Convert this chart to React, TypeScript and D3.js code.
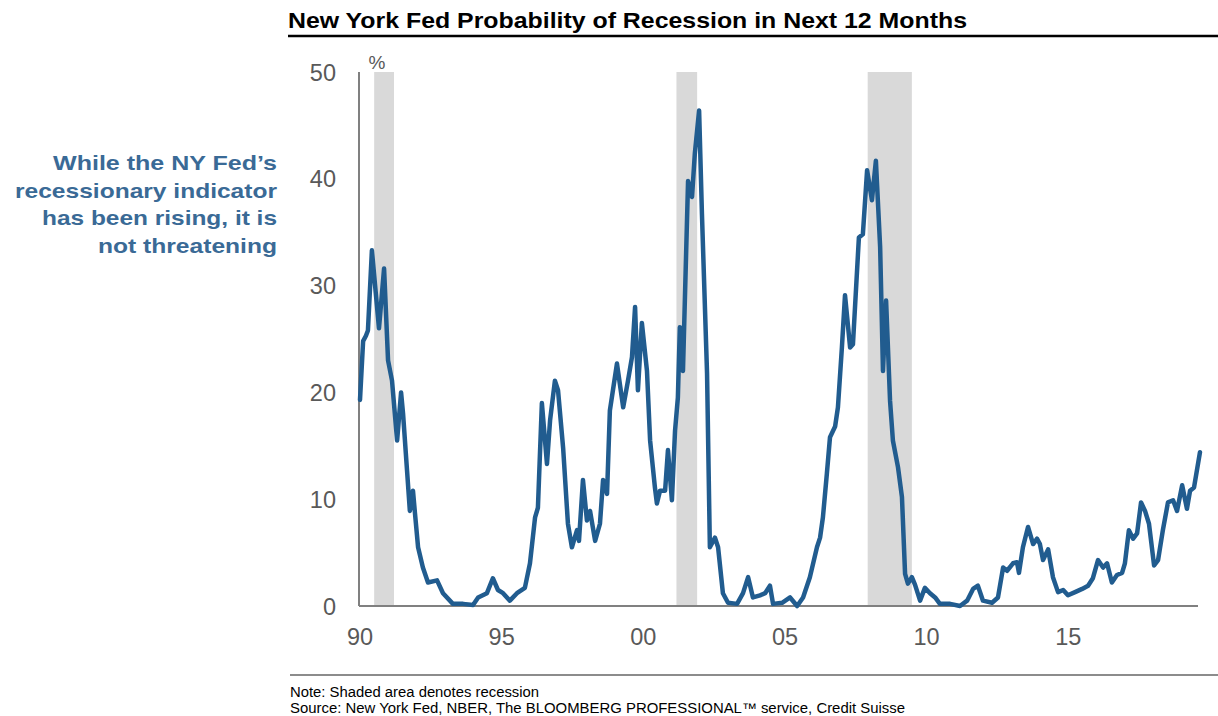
import React from 'react';
import * as d3 from 'd3';

// NY Fed recession probability (decimal year, %)
const dates: number[] = [
    1990.0, 1990.11, 1990.21, 1990.28, 1990.42, 1990.67, 1990.85, 1990.99, 1991.13, 1991.31,
    1991.45, 1991.52, 1991.66, 1991.76, 1991.87, 1991.94, 1992.05, 1992.22, 1992.4, 1992.72,
    1992.93, 1993.28, 1993.64, 1993.99, 1994.17, 1994.48, 1994.69, 1994.87, 1995.05, 1995.29,
    1995.54, 1995.82, 1996.0, 1996.18, 1996.28, 1996.42, 1996.6, 1996.71, 1996.88, 1996.99,
    1997.17, 1997.34, 1997.48, 1997.66, 1997.73, 1997.87, 1998.01, 1998.12, 1998.3, 1998.47,
    1998.58, 1998.72, 1998.82, 1999.07, 1999.29, 1999.46, 1999.6, 1999.71, 1999.81, 1999.95,
    2000.13, 2000.24, 2000.41, 2000.48, 2000.59, 2000.77, 2000.87, 2001.01, 2001.12, 2001.22,
    2001.29, 2001.4, 2001.58, 2001.72, 2001.82, 2001.97, 2002.07, 2002.25, 2002.35, 2002.53,
    2002.64, 2002.81, 2002.99, 2003.31, 2003.52, 2003.7, 2003.87, 2004.12, 2004.3, 2004.47,
    2004.58, 2004.9, 2005.18, 2005.43, 2005.64, 2005.88, 2006.13, 2006.24, 2006.34, 2006.48,
    2006.59, 2006.77, 2006.87, 2007.01, 2007.12, 2007.3, 2007.4, 2007.61, 2007.75, 2007.9,
    2008.07, 2008.21, 2008.36, 2008.46, 2008.57, 2008.71, 2008.81, 2008.99, 2009.13, 2009.24,
    2009.34, 2009.48, 2009.59, 2009.77, 2009.94, 2010.12, 2010.3, 2010.47, 2010.83, 2011.18,
    2011.43, 2011.64, 2011.81, 2011.99, 2012.31, 2012.52, 2012.7, 2012.84, 2013.05, 2013.19,
    2013.26, 2013.4, 2013.58, 2013.76, 2013.9, 2014.0, 2014.11, 2014.29, 2014.46, 2014.64,
    2014.82, 2014.99, 2015.24, 2015.49, 2015.7, 2015.87, 2016.05, 2016.23, 2016.37, 2016.54,
    2016.72, 2016.9, 2017.0, 2017.14, 2017.29, 2017.43, 2017.57, 2017.71, 2017.85, 2018.03,
    2018.17, 2018.34, 2018.52, 2018.7, 2018.84, 2019.02, 2019.19, 2019.3, 2019.44, 2019.65,
];
const probability: number[] = [
    19.3, 24.8, 25.3, 25.8, 33.3, 26.0, 31.6, 23.0, 21.1, 15.5,
    20.0, 18.0, 12.7, 8.9, 10.8, 8.7, 5.5, 3.6, 2.2, 2.4,
    1.2, 0.2, 0.2, 0.1, 0.8, 1.2, 2.6, 1.5, 1.2, 0.5,
    1.2, 1.7, 4.0, 8.3, 9.2, 19.0, 13.3, 17.4, 21.1, 20.2,
    14.8, 7.7, 5.5, 7.1, 6.1, 11.8, 8.0, 8.9, 6.1, 7.7,
    11.8, 10.5, 18.3, 22.7, 18.6, 21.1, 23.3, 28.0, 20.2, 26.5,
    22.0, 15.5, 11.1, 9.6, 10.8, 10.8, 14.6, 9.9, 16.4, 19.5,
    26.1, 22.0, 39.8, 38.3, 42.4, 46.4, 36.7, 21.8, 5.5, 6.4,
    5.5, 1.2, 0.3, 0.2, 1.2, 2.7, 0.8, 1.0, 1.2, 1.9,
    0.2, 0.3, 0.8, 0.0, 0.8, 2.7, 5.5, 6.4, 8.3, 12.4,
    15.8, 16.8, 18.6, 24.2, 29.1, 24.2, 24.5, 34.5, 34.8, 40.8,
    38.0, 41.7, 33.6, 22.0, 28.6, 19.2, 15.5, 13.0, 10.2, 3.0,
    2.1, 2.7, 2.0, 0.5, 1.7, 1.2, 0.8, 0.2, 0.2, 0.0,
    0.5, 1.6, 1.9, 0.5, 0.3, 0.8, 3.6, 3.3, 4.0, 4.1,
    3.1, 5.5, 7.4, 5.8, 6.3, 5.8, 4.3, 5.3, 2.7, 1.3,
    1.5, 1.0, 1.3, 1.6, 1.9, 2.6, 4.3, 3.6, 4.0, 2.2,
    2.9, 3.1, 4.0, 7.1, 6.3, 6.8, 9.7, 8.9, 7.7, 3.8,
    4.3, 7.1, 9.7, 9.9, 8.9, 11.3, 9.1, 10.8, 11.1, 14.4,
];

const recessionStarts: number[] = [1990.5, 2001.17, 2007.92];
const recessionEnds: number[] = [1991.2, 2001.9, 2009.48];

const xTicks: number[] = [1990, 1995, 2000, 2005, 2010, 2015];
const xTickLabels: string[] = ['90', '95', '00', '05', '10', '15'];
const yTicks: number[] = [0, 10, 20, 30, 40, 50];

const title = 'New York Fed Probability of Recession in Next 12 Months';
const noteLines: string[] = [
    "While the NY Fed\u2019s",
    'recessionary indicator',
    'has been rising, it is',
    'not threatening',
];
const noteWidths: number[] = [224, 262, 235, 179];
const footnote = 'Note: Shaded area denotes recession';
const source = 'Source: New York Fed, NBER, The BLOOMBERG PROFESSIONAL\u2122 service, Credit Suisse';

const App: React.FC = () => {
    const width = 1218;
    const height = 716;
    const plot = { left: 360, right: 1198, top: 72, bottom: 606 };

    const xScale = d3.scaleLinear().domain([1990, 2020]).range([plot.left, plot.left + 30 * 28.33]);
    const yScale = d3.scaleLinear().domain([0, 50]).range([plot.bottom, plot.top]);

    const points = dates.map((d, i) => [d, probability[i]] as [number, number]);
    const line = d3.line<[number, number]>()
        .x(d => xScale(d[0]))
        .y(d => yScale(d[1]));

    const font = 'Liberation Sans, Arial, Helvetica, sans-serif';
    const gray = '#595959';

    return (
        <svg width={width} height={height} style={{ position: 'absolute', left: 0, top: 0 }}
             fontFamily={font}>
            <rect width={width} height={height} fill="#fff" />

            {/* title */}
            <text x={288} y={28} fontSize={22.5} fontWeight="bold" fill="#000"
                  textLength={679} lengthAdjust="spacingAndGlyphs">{title}</text>
            <line x1={288} x2={1218} y1={36} y2={36} stroke="#000" strokeWidth={2.5} />

            {/* side note */}
            {noteLines.map((t, i) => (
                <text key={t} x={277} y={170 + i * 27.5} textAnchor="end" fontSize={20.5}
                      fontWeight="bold" fill="#3a6a96" textLength={noteWidths[i]}
                      lengthAdjust="spacingAndGlyphs">{t}</text>
            ))}

            {/* recessions */}
            {recessionStarts.map((s, i) => (
                <rect key={s} x={xScale(s)} y={plot.top} width={xScale(recessionEnds[i]) - xScale(s)}
                      height={plot.bottom - plot.top} fill="#d9d9d9" />
            ))}

            {/* axes */}
            <line x1={plot.left - 1} x2={plot.left - 1} y1={plot.top} y2={plot.bottom} stroke="#808080" strokeWidth={2} />
            <line x1={plot.left - 1} x2={plot.right} y1={plot.bottom} y2={plot.bottom} stroke="#808080" strokeWidth={2} />

            {yTicks.map(t => (
                <text key={t} x={336} y={yScale(t) + 8.5} textAnchor="end" fontSize={23.5} fill={gray}>{t}</text>
            ))}
            <text x={377} y={69} textAnchor="middle" fontSize={19} fill={gray}>%</text>

            {xTicks.map((t, i) => (
                <text key={t} x={xScale(t)} y={645} textAnchor="middle" fontSize={23.5} fill={gray}>{xTickLabels[i]}</text>
            ))}

            <path d={line(points) || ''} fill="none" stroke="#215c8f" strokeWidth={4.5}
                  strokeLinejoin="round" strokeLinecap="round" />

            {/* footer */}
            <line x1={290} x2={1218} y1={675} y2={675} stroke="#8c8c8c" strokeWidth={2} />
            <text x={290} y={697} fontSize={14} fill="#000" textLength={249}
                  lengthAdjust="spacingAndGlyphs">{footnote}</text>
            <text x={290} y={713} fontSize={14} fill="#000" textLength={615}
                  lengthAdjust="spacingAndGlyphs">{source}</text>
        </svg>
    );
};

export default App;
